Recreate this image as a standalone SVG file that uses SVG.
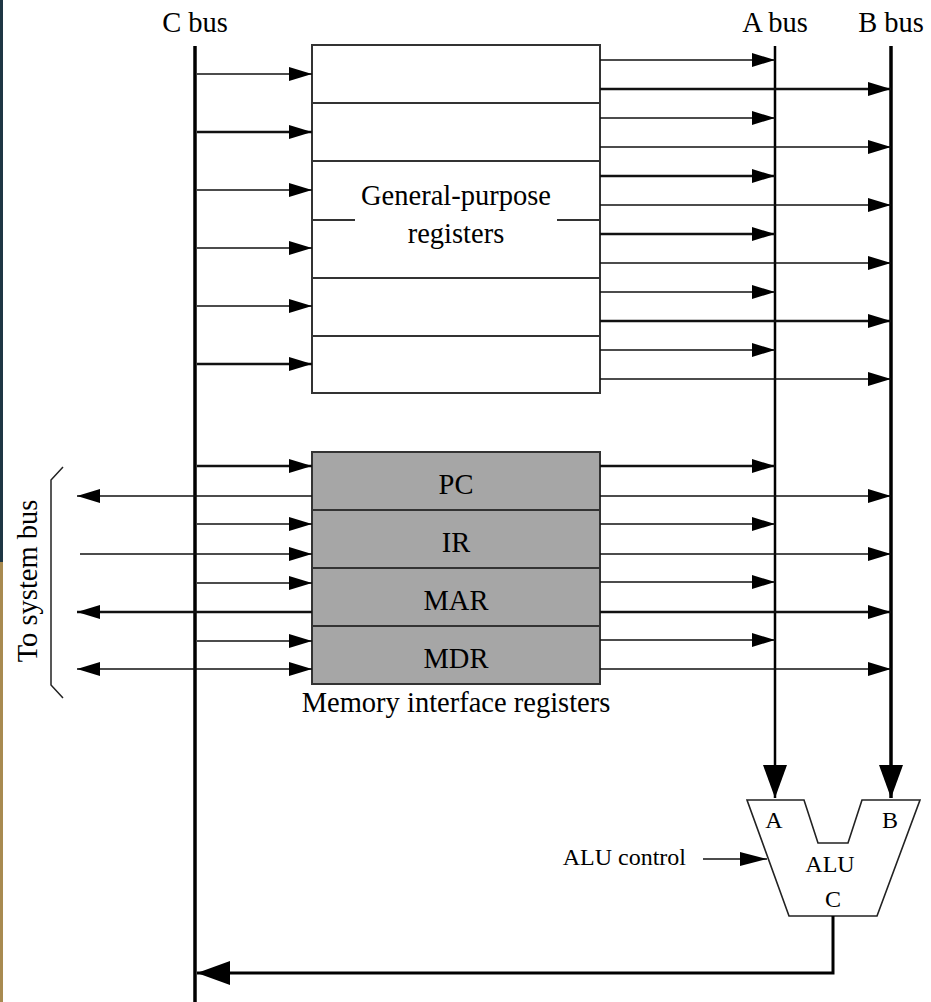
<svg xmlns="http://www.w3.org/2000/svg" width="931" height="1002" viewBox="0 0 931 1002">
<style>
  text { font-family: "Liberation Serif", "Times New Roman", serif; fill: #000; }
  .lbl { font-size: 28.5px; }
  .sm { font-size: 24px; }
  .box { fill: #fff; stroke: #333; stroke-width: 2; }
  .mem { fill: #a6a6a6; stroke: #333; stroke-width: 2; }
  .div { stroke: #333; stroke-width: 2; fill: none; }
  .w { stroke: #111; stroke-width: 1.6; fill: none; }
  .wt { stroke: #111; stroke-width: 2.3; fill: none; }
  .bus { stroke: #000; stroke-width: 3.5; fill: none; }
  .abus { stroke: #000; stroke-width: 2.5; fill: none; }
</style>
<defs>
  <marker id="ah" markerUnits="userSpaceOnUse" markerWidth="24" markerHeight="14" refX="23" refY="7" orient="auto-start-reverse">
    <path d="M0,0 L23,7 L0,14 z" fill="#000"/>
  </marker>
  <marker id="ahb" markerUnits="userSpaceOnUse" markerWidth="34" markerHeight="24" refX="33" refY="12" orient="auto-start-reverse">
    <path d="M0,0 L33,12 L0,24 z" fill="#000"/>
  </marker>
  <marker id="ahm" markerUnits="userSpaceOnUse" markerWidth="28" markerHeight="14" refX="27" refY="7" orient="auto-start-reverse">
    <path d="M0,0 L27,7 L0,14 z" fill="#000"/>
  </marker>
</defs>

<!-- left edge strip -->
<rect x="0" y="0" width="3" height="562" fill="#1e3644"/>
<rect x="0" y="562" width="3" height="440" fill="#a88a50"/>

<!-- bus labels -->
<text class="lbl" x="195" y="32" text-anchor="middle">C bus</text>
<text class="lbl" x="775" y="32" text-anchor="middle">A bus</text>
<text class="lbl" x="891" y="32" text-anchor="middle">B bus</text>

<!-- General-purpose registers -->
<g id="gpr">
  <rect class="box" x="312" y="45" width="288" height="348"/>
  <line class="div" x1="312" y1="103" x2="600" y2="103"/>
  <line class="div" x1="312" y1="161" x2="600" y2="161"/>
  <line class="div" x1="312" y1="220" x2="355" y2="220"/>
  <line class="div" x1="557" y1="220" x2="600" y2="220"/>
  <line class="div" x1="312" y1="278" x2="600" y2="278"/>
  <line class="div" x1="312" y1="336" x2="600" y2="336"/>
  <text class="lbl" x="456" y="205" text-anchor="middle">General-purpose</text>
  <text class="lbl" x="456" y="243" text-anchor="middle">registers</text>
</g>

<!-- Memory interface registers -->
<g id="pc">
  <rect class="mem" x="312" y="452" width="288" height="58"/>
  <text class="lbl" x="456" y="494" text-anchor="middle">PC</text>
</g>
<g id="ir">
  <rect class="mem" x="312" y="510" width="288" height="58"/>
  <text class="lbl" x="456" y="552" text-anchor="middle">IR</text>
</g>
<g id="mar">
  <rect class="mem" x="312" y="568" width="288" height="58"/>
  <text class="lbl" x="456" y="610" text-anchor="middle">MAR</text>
</g>
<g id="mdr">
  <rect class="mem" x="312" y="626" width="288" height="58"/>
  <text class="lbl" x="456" y="668" text-anchor="middle">MDR</text>
</g>
<text class="lbl" x="456" y="712" text-anchor="middle">Memory interface registers</text>

<!-- System bus bracket -->
<g id="sysbus">
  <path d="M63,467 L51,480 L51,685 L63,698" stroke="#222" stroke-width="1.5" fill="none"/>
  <text class="lbl" transform="translate(37,581) rotate(-90)" text-anchor="middle">To system bus</text>
</g>

<!-- ALU -->
<g id="alu">
  <polygon points="747,800 804,800 818,843 848,843 862,800 920,800 877,916 789,916" fill="#fff" stroke="#222" stroke-width="1.6"/>
  <text class="sm" x="774" y="828" text-anchor="middle">A</text>
  <text class="sm" x="890" y="828" text-anchor="middle">B</text>
  <text class="sm" x="830" y="872" text-anchor="middle">ALU</text>
  <text class="sm" x="833" y="907" text-anchor="middle">C</text>
</g>
<text class="sm" x="686" y="865" text-anchor="end">ALU control</text>

<g id="connectors">
  <!-- buses -->
  <line class="bus" x1="195" y1="46" x2="195" y2="1002"/>
  <line class="abus" x1="775" y1="46" x2="775" y2="798" marker-end="url(#ahb)"/>
  <line class="bus" x1="891" y1="46" x2="891" y2="798" marker-end="url(#ahb)"/>

  <!-- C bus to GP registers -->
  <line class="w" x1="197" y1="74" x2="312" y2="74" marker-end="url(#ah)"/>
  <line class="wt" x1="197" y1="132" x2="312" y2="132" marker-end="url(#ah)"/>
  <line class="w" x1="197" y1="190" x2="312" y2="190" marker-end="url(#ah)"/>
  <line class="w" x1="197" y1="248" x2="312" y2="248" marker-end="url(#ah)"/>
  <line class="w" x1="197" y1="306" x2="312" y2="306" marker-end="url(#ah)"/>
  <line class="wt" x1="197" y1="364" x2="312" y2="364" marker-end="url(#ah)"/>

  <!-- GP registers to A bus -->
  <line class="w" x1="600" y1="60" x2="775" y2="60" marker-end="url(#ah)"/>
  <line class="w" x1="600" y1="118" x2="775" y2="118" marker-end="url(#ah)"/>
  <line class="wt" x1="600" y1="176" x2="775" y2="176" marker-end="url(#ah)"/>
  <line class="wt" x1="600" y1="234" x2="775" y2="234" marker-end="url(#ah)"/>
  <line class="w" x1="600" y1="292" x2="775" y2="292" marker-end="url(#ah)"/>
  <line class="w" x1="600" y1="350" x2="775" y2="350" marker-end="url(#ah)"/>

  <!-- GP registers to B bus -->
  <line class="wt" x1="600" y1="89" x2="891" y2="89" marker-end="url(#ah)"/>
  <line class="w" x1="600" y1="147" x2="891" y2="147" marker-end="url(#ah)"/>
  <line class="w" x1="600" y1="205" x2="891" y2="205" marker-end="url(#ah)"/>
  <line class="w" x1="600" y1="263" x2="891" y2="263" marker-end="url(#ah)"/>
  <line class="wt" x1="600" y1="321" x2="891" y2="321" marker-end="url(#ah)"/>
  <line class="w" x1="600" y1="379" x2="891" y2="379" marker-end="url(#ah)"/>

  <!-- C bus to memory registers -->
  <line class="wt" x1="197" y1="466" x2="312" y2="466" marker-end="url(#ah)"/>
  <line class="w" x1="197" y1="524" x2="312" y2="524" marker-end="url(#ah)"/>
  <line class="w" x1="197" y1="583" x2="312" y2="583" marker-end="url(#ah)"/>
  <line class="w" x1="197" y1="641" x2="312" y2="641" marker-end="url(#ah)"/>

  <!-- system bus connections -->
  <line class="w" x1="312" y1="496" x2="77" y2="496" marker-end="url(#ah)"/>
  <line class="w" x1="80" y1="554" x2="312" y2="554" marker-end="url(#ah)"/>
  <line class="wt" x1="312" y1="612" x2="77" y2="612" marker-end="url(#ah)"/>
  <line class="w" x1="77" y1="669" x2="312" y2="669" marker-start="url(#ah)" marker-end="url(#ah)"/>

  <!-- memory registers to A bus -->
  <line class="wt" x1="600" y1="466" x2="775" y2="466" marker-end="url(#ah)"/>
  <line class="w" x1="600" y1="524" x2="775" y2="524" marker-end="url(#ah)"/>
  <line class="w" x1="600" y1="582" x2="775" y2="582" marker-end="url(#ah)"/>
  <line class="w" x1="600" y1="640" x2="775" y2="640" marker-end="url(#ah)"/>

  <!-- memory registers to B bus -->
  <line class="w" x1="600" y1="496" x2="891" y2="496" marker-end="url(#ah)"/>
  <line class="w" x1="600" y1="554" x2="891" y2="554" marker-end="url(#ah)"/>
  <line class="wt" x1="600" y1="612" x2="891" y2="612" marker-end="url(#ah)"/>
  <line class="w" x1="600" y1="669" x2="891" y2="669" marker-end="url(#ah)"/>

  <!-- ALU control -->
  <line class="w" x1="703" y1="859" x2="767" y2="859" marker-end="url(#ahm)"/>

  <!-- ALU output to C bus -->
  <polyline points="833,916 833,973 197,973" stroke="#000" stroke-width="3" fill="none" marker-end="url(#ahb)"/>
</g>
</svg>
